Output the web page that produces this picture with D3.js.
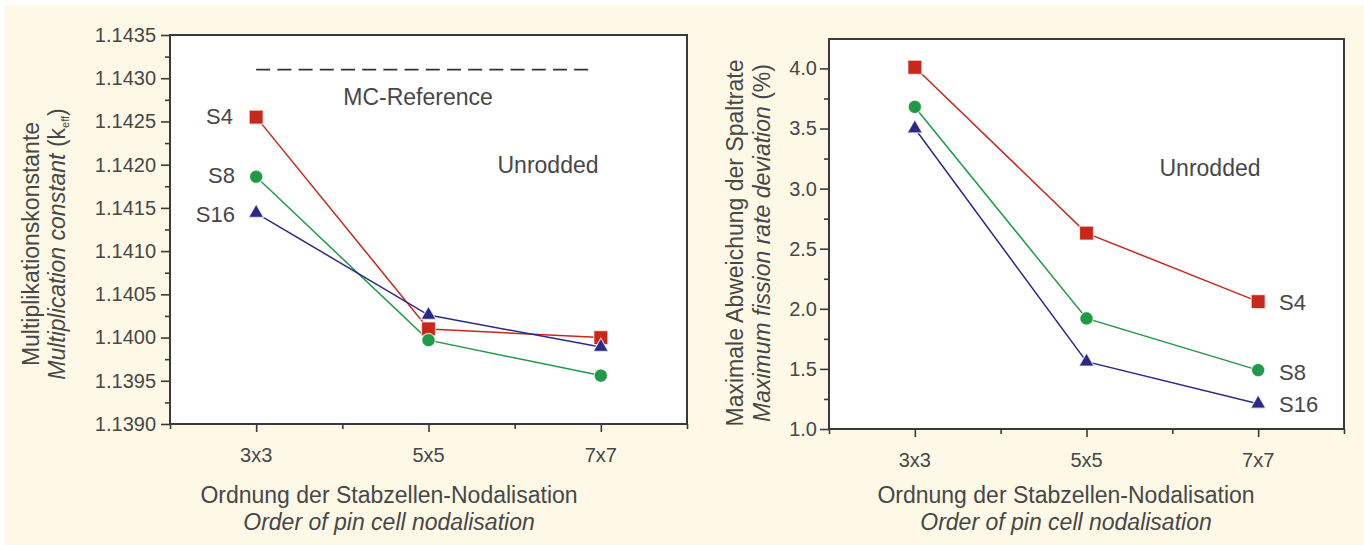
<!DOCTYPE html>
<html><head><meta charset="utf-8">
<script src="https://cdn.jsdelivr.net/npm/d3@7"></script>
<style>
body{margin:0;background:#fff}
svg{display:block}
text{font-family:"Liberation Sans",Arial,Helvetica,sans-serif;fill:#474747}
</style>
</head><body>
<svg id="chart" width="1364" height="545"></svg>
<script>
// ---------- data ----------
const categories = ["3x3", "5x5", "7x7"];
const categoryPos = [3, 5, 7];
const seriesNames = ["S4", "S8", "S16"];

// left panel: multiplication constant k_eff
const keffS4  = [1.14255, 1.14010, 1.14000];
const keffS8  = [1.14186, 1.13997, 1.13956];
const keffS16 = [1.14144, 1.14026, 1.13989];
const mcReference = 1.1431;
const keffTicks = [1.1390, 1.1395, 1.1400, 1.1405, 1.1410, 1.1415, 1.1420, 1.1425, 1.1430, 1.1435];

// right panel: maximum fission rate deviation (%)
const devS4  = [4.01, 2.63, 2.06];
const devS8  = [3.68, 1.92, 1.49];
const devS16 = [3.50, 1.56, 1.21];
const devTicks = [1.0, 1.5, 2.0, 2.5, 3.0, 3.5, 4.0];

// ---------- styles ----------
const colors = {S4: "#c6291c", S8: "#1f9a47", S16: "#2c2887"};
const symbols = {S4: d3.symbolSquare, S8: d3.symbolCircle, S16: d3.symbolTriangle};
const symSize = {S4: 196, S8: 140, S16: 100};
const axisColor = "#3a3a3a";

const svg = d3.select("#chart");
svg.append("rect").attr("x", 5).attr("y", 5).attr("width", 1364).attr("height", 545).attr("fill", "#fdf9e6");

function panel(cfg) {
  const g = svg.append("g");
  const x = d3.scaleLinear().domain([2, 8]).range([cfg.x0, cfg.x1]);
  const y = d3.scaleLinear().domain(cfg.yDomain).range([cfg.y1, cfg.y0]);

  g.append("rect").attr("x", cfg.x0).attr("y", cfg.y0)
    .attr("width", cfg.x1 - cfg.x0).attr("height", cfg.y1 - cfg.y0)
    .attr("fill", "#fff");

  // y axis major
  const yAx = g.append("g").attr("transform", `translate(${cfg.x0},0)`)
    .call(d3.axisLeft(y).tickValues(cfg.yTicks).tickSize(9).tickPadding(cfg.yPad).tickFormat(d3.format(cfg.yFmt)));
  yAx.select(".domain").remove();
  yAx.selectAll("line").attr("stroke", axisColor).attr("stroke-width", 1.6);
  yAx.selectAll("text").attr("font-size", 20).attr("fill", "#474747")
    .attr("font-family", '"Liberation Sans",Arial,sans-serif');
  // y minor
  const yMinor = [];
  for (let i = 0; i < cfg.yTicks.length - 1; i++) yMinor.push((cfg.yTicks[i] + cfg.yTicks[i + 1]) / 2);
  const yMi = g.append("g").attr("transform", `translate(${cfg.x0},0)`)
    .call(d3.axisLeft(y).tickValues(yMinor).tickSize(5).tickFormat(""));
  yMi.select(".domain").remove();
  yMi.selectAll("line").attr("stroke", axisColor).attr("stroke-width", 1.6);

  // x axis major/minor
  const xAx = g.append("g").attr("transform", `translate(0,${cfg.y1})`)
    .call(d3.axisBottom(x).tickValues(categoryPos).tickSize(8).tickFormat(""));
  xAx.select(".domain").remove();
  xAx.selectAll("line").attr("stroke", axisColor).attr("stroke-width", 1.6);
  const xMi = g.append("g").attr("transform", `translate(0,${cfg.y1})`)
    .call(d3.axisBottom(x).tickValues([2, 4, 6, 8]).tickSize(5).tickFormat(""));
  xMi.select(".domain").remove();
  xMi.selectAll("line").attr("stroke", axisColor).attr("stroke-width", 1.6);

  g.selectAll(".xlab").data(categories).enter().append("text")
    .attr("x", (d, i) => x(categoryPos[i])).attr("y", cfg.y1 + 38)
    .attr("text-anchor", "middle").attr("font-size", 20).text(d => d);

  // frame
  g.append("rect").attr("x", cfg.x0).attr("y", cfg.y0)
    .attr("width", cfg.x1 - cfg.x0).attr("height", cfg.y1 - cfg.y0)
    .attr("fill", "none").attr("stroke", axisColor).attr("stroke-width", 2);

  // reference line
  if (cfg.reference !== undefined) {
    g.append("line").attr("x1", x(3)).attr("x2", x(6.92))
      .attr("y1", y(cfg.reference)).attr("y2", y(cfg.reference))
      .attr("stroke", "#333").attr("stroke-width", 1.6).attr("stroke-dasharray", "14,7.2");
  }

  // series
  const line = d3.line().x((d, i) => x(categoryPos[i])).y(d => y(d));
  cfg.series.forEach(s => {
    g.append("path").datum(s.values).attr("d", line)
      .attr("fill", "none").attr("stroke", colors[s.name]).attr("stroke-width", 1.5);
  });
  cfg.series.forEach(s => {
    g.selectAll(null).data(s.values).enter().append("path")
      .attr("transform", (d, i) => `translate(${x(categoryPos[i])},${y(d)})`)
      .attr("d", d3.symbol().type(symbols[s.name]).size(symSize[s.name]))
      .attr("fill", colors[s.name]).attr("stroke", "#fff").attr("stroke-opacity", 0.7).attr("stroke-width", 1.2);
  });

  // series labels
  cfg.labels.forEach(l => {
    g.append("text").attr("x", l.x).attr("y", l.y).attr("text-anchor", l.anchor)
      .attr("font-size", 22).text(l.text);
  });

  // Unrodded
  g.append("text").attr("x", cfg.unrodded[0]).attr("y", cfg.unrodded[1])
    .attr("text-anchor", "middle").attr("font-size", 23).text("Unrodded");

  // x title
  g.append("text").attr("x", cfg.xTitleX).attr("y", 503).attr("text-anchor", "middle")
    .attr("font-size", 23).text("Ordnung der Stabzellen-Nodalisation");
  g.append("text").attr("x", cfg.xTitleX).attr("y", 530).attr("text-anchor", "middle")
    .attr("font-size", 23).attr("font-style", "italic").text("Order of pin cell nodalisation");

  // y title
  const yt = g.append("g").attr("transform", `translate(0,${cfg.yTitleY}) rotate(-90)`);
  yt.append("text").attr("x", 0).attr("y", cfg.yTitleX[0]).attr("text-anchor", "middle")
    .attr("font-size", 23).text(cfg.yTitle1);
  const t2 = yt.append("text").attr("x", 0).attr("y", cfg.yTitleX[1]).attr("text-anchor", "middle")
    .attr("font-size", 23);
  cfg.yTitle2(t2);
  return {x, y};
}

// left panel
panel({
  x0: 170, x1: 687, y0: 35, y1: 424,
  yDomain: [1.1390, 1.1435], yTicks: keffTicks, yFmt: ".4f", yPad: 5,
  reference: mcReference,
  series: [{name: "S4", values: keffS4}, {name: "S8", values: keffS8}, {name: "S16", values: keffS16}],
  labels: [
    {text: seriesNames[0], x: 233, y: 124, anchor: "end"},
    {text: seriesNames[1], x: 235, y: 183, anchor: "end"},
    {text: seriesNames[2], x: 235, y: 222, anchor: "end"}
  ],
  unrodded: [548, 173],
  xTitleX: 389,
  yTitleY: 244, yTitleX: [39, 65],
  yTitle1: "Multiplikationskonstante",
  yTitle2: t => {
    t.append("tspan").attr("font-style", "italic").text("Multiplication constant ");
    t.append("tspan").text("(k");
    t.append("tspan").attr("font-size", 11).attr("dy", 4).text("eff");
    t.append("tspan").attr("dy", -4).text(")");
  }
});
svg.append("text").attr("x", 418).attr("y", 105).attr("text-anchor", "middle")
  .attr("font-size", 23).text("MC-Reference");

// right panel
panel({
  x0: 829, x1: 1344, y0: 39, y1: 429,
  yDomain: [1.0, 4.245], yTicks: devTicks, yFmt: ".1f", yPad: 3,
  series: [{name: "S4", values: devS4}, {name: "S8", values: devS8}, {name: "S16", values: devS16}],
  labels: [
    {text: seriesNames[0], x: 1279, y: 310, anchor: "start"},
    {text: seriesNames[1], x: 1279, y: 380, anchor: "start"},
    {text: seriesNames[2], x: 1279, y: 412, anchor: "start"}
  ],
  unrodded: [1210, 176],
  xTitleX: 1066,
  yTitleY: 243, yTitleX: [743, 770],
  yTitle1: "Maximale Abweichung der Spaltrate",
  yTitle2: t => {
    t.append("tspan").attr("font-style", "italic").text("Maximum fission rate deviation");
    t.append("tspan").text(" (%)");
  }
});
</script>
</body></html>
